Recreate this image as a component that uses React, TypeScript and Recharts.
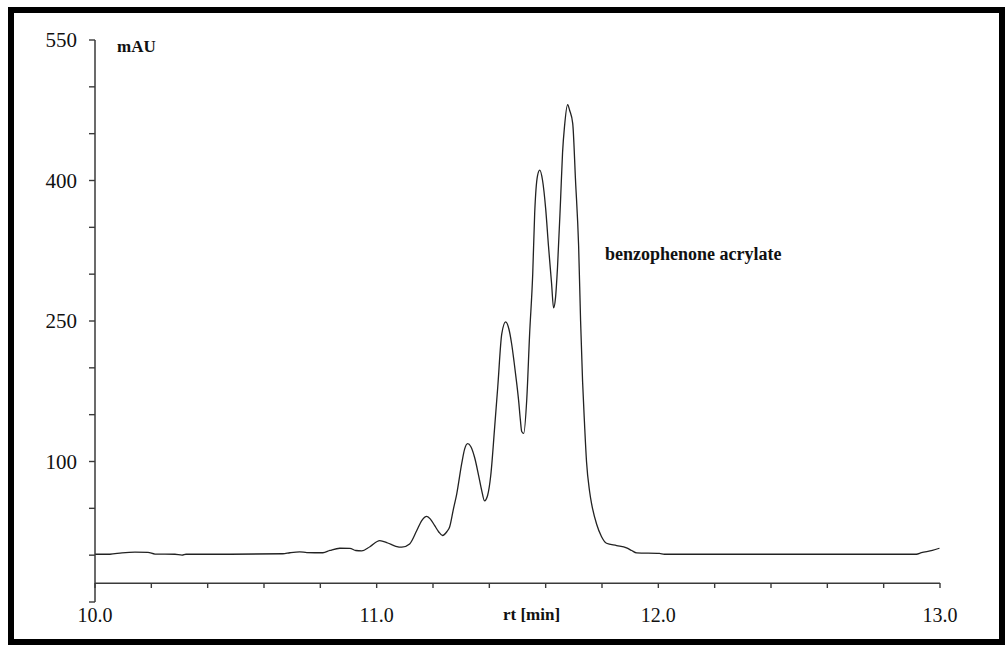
import { LineChart, Line, XAxis, YAxis, ReferenceLine } from 'recharts'

// retention time [min] and detector signal [mAU]
const TIME = [
  10.0, 10.053, 10.096, 10.142, 10.188, 10.213, 10.284, 10.309, 10.323, 10.479,
  10.667, 10.692, 10.727, 10.752, 10.809, 10.834, 10.869, 10.905, 10.926, 10.947,
  10.976, 11.011, 11.039, 11.068, 11.089, 11.117, 11.142, 11.16, 11.178, 11.192,
  11.206, 11.22, 11.234, 11.249, 11.259, 11.273, 11.284, 11.302, 11.312, 11.323,
  11.334, 11.348, 11.362, 11.373, 11.383, 11.394, 11.405, 11.419, 11.43, 11.444,
  11.458, 11.469, 11.479, 11.488, 11.497, 11.504, 11.51, 11.515, 11.522, 11.533,
  11.543, 11.554, 11.561, 11.571, 11.579, 11.589, 11.6, 11.61, 11.621, 11.628,
  11.635, 11.642, 11.653, 11.66, 11.667, 11.678, 11.685, 11.696, 11.706, 11.717,
  11.724, 11.731, 11.738, 11.745, 11.756, 11.763, 11.781, 11.798, 11.816, 11.852,
  11.887, 11.905, 11.923, 12.004, 12.021, 12.916, 12.934, 12.973, 12.998,
]
const SIGNAL = [
  1, 1, 2.5, 3.2, 3, 1.2, 1, 0, 1, 1,
  1.5, 2.6, 3.5, 2.8, 2.6, 5, 7.4, 7.2, 5, 4.5,
  9, 15.5, 13, 9.5, 8.5, 12, 26, 37, 41.5, 38,
  31.5, 25, 21, 25, 30, 50, 65, 98, 113, 119,
  116, 104, 85, 69, 58, 64, 85, 137, 180, 236,
  249, 242, 226, 206, 184, 165, 145, 132, 130, 167,
  236, 300, 365, 405, 411, 400, 370, 330, 290, 264,
  275, 307, 380, 430, 458, 481, 475, 461, 400, 330,
  250, 186, 140, 100, 68, 55, 33, 20, 12.7, 10.3,
  7.8, 5, 2.5, 2, 1, 1, 2.6, 5, 7.4,
]

const X_TICKS = [10, 10.2, 10.4, 10.6, 10.8, 11, 11.2, 11.4, 11.6, 11.8, 12, 12.2, 12.4, 12.6, 12.8, 13]
const X_LABELS = [10, 11, 12, 13]
const Y_TICKS = [-50, 0, 50, 100, 150, 200, 250, 300, 350, 400, 450, 500, 550]
const Y_LABELS = [100, 250, 400, 550]
const X_AXIS_LEVEL = -30

const data = TIME.map((t, i) => ({ t, mAU: SIGNAL[i] }))

const FONT = '"Liberation Serif", "Times New Roman", serif'
const AXIS = '#3a3a3a'

function TimeTick({ x, y, payload }: any) {
  const v = payload.value
  const show = X_LABELS.some((l) => Math.abs(l - v) < 1e-6)
  return (
    <g>
      <line x1={x} x2={x} y1={y - 19} y2={y - 14} stroke={AXIS} strokeWidth={1.4} />
      {show && (
        <text x={x} y={y + 20} textAnchor="middle" fontFamily={FONT} fontSize={20} fill="#111">
          {v.toFixed(1)}
        </text>
      )}
    </g>
  )
}

const textStyle: any = {
  position: 'absolute',
  fontFamily: FONT,
  fontWeight: 'bold',
  color: '#111',
  whiteSpace: 'nowrap',
  lineHeight: 1,
}

export default function App() {
  return (
    <div>
      <div
        style={{
          position: 'absolute',
          left: 8,
          top: 7,
          width: 997,
          height: 638,
          boxSizing: 'border-box',
          border: '6px solid #000',
          background: '#fff',
        }}
      />
      <div style={{ position: 'absolute', left: 0, top: 0, width: 1005, height: 645 }}>
        <LineChart width={1005} height={645} data={data} margin={{ top: 40, right: 65, bottom: 13, left: 45 }}>
          <XAxis
            dataKey="t"
            type="number"
            domain={[10, 13]}
            ticks={X_TICKS}
            axisLine={false}
            tickLine={false}
            tickSize={0}
            tickMargin={0}
            height={30}
            interval={0}
            tick={<TimeTick />}
          />
          <YAxis
            type="number"
            domain={[-50, 550]}
            ticks={Y_TICKS}
            interval={0}
            width={50}
            tickSize={6}
            tickMargin={12}
            axisLine={{ stroke: AXIS, strokeWidth: 1.5 }}
            tickLine={{ stroke: AXIS, strokeWidth: 1.4 }}
            tickFormatter={(v: number) => (Y_LABELS.includes(v) ? String(v) : '')}
            tick={{ fontFamily: FONT, fontSize: 21, fill: '#111' }}
          />
          <ReferenceLine y={X_AXIS_LEVEL} stroke={AXIS} strokeWidth={1.5} />
          <Line
            type="monotone"
            dataKey="mAU"
            stroke="#222"
            strokeWidth={1.3}
            dot={false}
            isAnimationActive={false}
          />
        </LineChart>
      </div>
      <div style={{ ...textStyle, left: 117, top: 38, fontSize: 17 }}>mAU</div>
      <div style={{ ...textStyle, left: 605, top: 245, fontSize: 18 }}>benzophenone acrylate</div>
      <div style={{ ...textStyle, left: 503, top: 606, fontSize: 17 }}>rt [min]</div>
    </div>
  )
}
